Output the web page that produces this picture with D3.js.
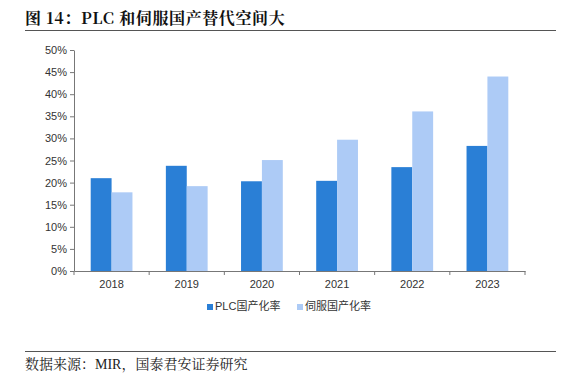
<!DOCTYPE html>
<html>
<head>
<meta charset="utf-8">
<script src="https://cdn.jsdelivr.net/npm/d3@7"></script>
<style>
  body { margin: 0; background: #fff; }
  svg { display: block; }
</style>
</head>
<body>
<svg width="562" height="384"></svg>
<script>
// Chart data
const years = ["2018", "2019", "2020", "2021", "2022", "2023"];
const seriesNames = ["PLC国产化率", "伺服国产化率"];
const plcRate = [21.0, 23.8, 20.3, 20.4, 23.5, 28.3];
const servoRate = [17.8, 19.2, 25.1, 29.7, 36.1, 44.0];
const yTicks = [0, 5, 10, 15, 20, 25, 30, 35, 40, 45, 50];
const colors = ["#2A7FD6", "#ADCBF6"];

const svg = d3.select("svg");
const margin = { top: 50, left: 74, right: 37, bottom: 113 };
const width = 562 - margin.left - margin.right;
const height = 384 - margin.top - margin.bottom;

// Title and rules
svg.append("text")
    .attr("x", 25).attr("y", 24)
    .attr("font-family", "'Noto Serif CJK SC', 'Liberation Serif', 'Noto Sans CJK SC', serif")
    .attr("font-weight", "bold")
    .attr("font-size", 16)
    .attr("letter-spacing", 0.6)
    .attr("fill", "#111")
    .text("图 14：PLC 和伺服国产替代空间大");
svg.append("line").attr("x1", 25).attr("x2", 556).attr("y1", 30.5).attr("y2", 30.5)
    .attr("stroke", "#555").attr("stroke-width", 1);
svg.append("line").attr("x1", 25).attr("x2", 556).attr("y1", 351.5).attr("y2", 351.5)
    .attr("stroke", "#555").attr("stroke-width", 1);
svg.append("text")
    .attr("x", 25).attr("y", 369)
    .attr("font-family", "'Liberation Serif', 'Noto Serif CJK SC', 'Noto Sans CJK SC', serif")
    .attr("font-size", 14)
    .attr("fill", "#222")
    .text("数据来源：MIR，国泰君安证券研究");

const g = svg.append("g")
    .attr("transform", `translate(${margin.left},${margin.top})`);

// Scales
const x0 = d3.scaleBand().domain(years).range([0, width]).paddingInner(0).paddingOuter(0);
const x1 = d3.scaleBand().domain(seriesNames).range([16.7, x0.bandwidth() - 16.7]).padding(0);
const y = d3.scaleLinear().domain([0, 50]).range([height, 0]);

// Bars
const rows = years.map((yr, i) => ({ year: yr, values: [plcRate[i], servoRate[i]] }));
const grp = g.selectAll(".grp").data(rows).enter().append("g")
    .attr("transform", d => `translate(${x0(d.year)},0)`);
grp.selectAll("rect")
    .data(d => d.values.map((v, j) => ({ name: seriesNames[j], v, j })))
    .enter().append("rect")
    .attr("x", d => x1(d.name))
    .attr("y", d => y(d.v))
    .attr("width", x1.bandwidth())
    .attr("height", d => y(0) - y(d.v))
    .attr("fill", d => colors[d.j]);

// Y axis
const yAxis = g.append("g")
    .call(d3.axisLeft(y).tickValues(yTicks).tickFormat(d => d + "%").tickSize(4).tickSizeOuter(0));
yAxis.select(".domain").attr("stroke", "#777");
yAxis.selectAll(".tick line").attr("stroke", "#777");
yAxis.selectAll("text").attr("font-family", "'Liberation Sans', Arial, sans-serif")
    .attr("font-size", 11).attr("fill", "#333").attr("x", -7);

// X axis
const xAxis = g.append("g")
    .attr("transform", `translate(0,${height})`)
    .call(d3.axisBottom(x0).tickSize(0).tickSizeOuter(0));
xAxis.select(".domain").attr("stroke", "#777");
xAxis.selectAll("text").attr("font-family", "'Liberation Sans', Arial, sans-serif")
    .attr("font-size", 11).attr("fill", "#333").attr("dy", "1.25em");
// boundary ticks between categories
xAxis.selectAll(".sep").data(d3.range(years.length + 1)).enter().append("line")
    .attr("x1", i => i * x0.bandwidth()).attr("x2", i => i * x0.bandwidth())
    .attr("y1", 0).attr("y2", 4).attr("stroke", "#777");

// Legend
const legendX = [207, 297];
const legend = svg.selectAll(".legend").data(seriesNames).enter().append("g")
    .attr("transform", (d, i) => `translate(${legendX[i]},310)`);
legend.append("rect").attr("x", 0).attr("y", -6).attr("width", 6).attr("height", 6)
    .attr("fill", (d, i) => colors[i]);
legend.append("text").attr("x", 8).attr("y", 0)
    .attr("font-family", "'Liberation Sans', 'Noto Sans CJK SC', sans-serif")
    .attr("font-size", 11).attr("fill", "#333")
    .text(d => d);
</script>
</body>
</html>
